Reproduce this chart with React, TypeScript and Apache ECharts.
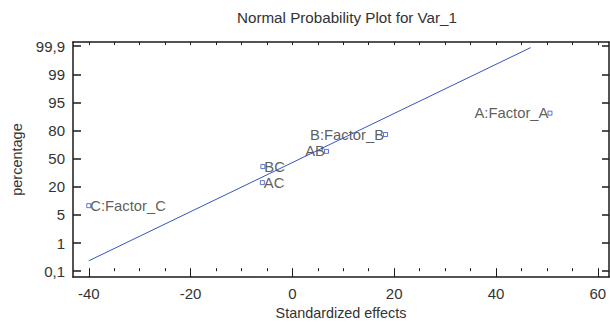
import React, { useEffect, useRef } from "react";
import * as echarts from "echarts";

const effectNames = ["A:Factor_A", "B:Factor_B", "C:Factor_C", "AB", "AC", "BC"];
const effectValues = [50.6, 18.3, -40.0, 6.7, -5.9, -5.8];
const effectScores = [5.62, 4.86, 2.33, 4.26, 3.15, 3.72];
const labelSides = ["left", "left", "right", "left", "right", "right"];

const yTickLabels = ["0,1", "1", "5", "20", "50", "80", "95", "99", "99,9"];
const xTickValues = [-40, -20, 0, 20, 40, 60];
const xMinorValues = [-40, -35, -30, -25, -20, -15, -10, -5, 0, 5, 10, 15, 20, 25, 30, 35, 40, 45, 50, 55, 60];

const refLineX = [-40, 46.8];
const refLineY = [0.37, 7.95];

const TEXT = "#333333";
const AXIS = "#1a1a1a";
const BLUE = "#3555c0";
const FONT = "Liberation Sans, Arial, sans-serif";

export default function App() {
  const ref = useRef<HTMLDivElement>(null);
  useEffect(() => {
    if (!ref.current) return;
    const chart = echarts.init(ref.current, null, { renderer: "svg" });
    const yIdx = yTickLabels.map((_, i) => i);
    const xMin = -43.1;
    const xMax = 62.2;
    const yMin = -0.21;
    const yMax = 8.15;
    const axisLine = { show: true, onZero: false, lineStyle: { color: AXIS, width: 1.5 } };
    chart.setOption({
      animation: false,
      backgroundColor: "#ffffff",
      textStyle: { fontFamily: FONT },
      title: {
        text: "Normal Probability Plot for Var_1",
        left: 342,
        top: 5,
        textAlign: "center",
        textStyle: { fontSize: 15.2, fontWeight: "normal", color: TEXT, fontFamily: FONT },
      },
      grid: { left: 73, right: 1, top: 42, bottom: 44, containLabel: false },
      xAxis: [
        {
          type: "value",
          position: "bottom",
          min: xMin,
          max: xMax,
          axisLine,
          splitLine: { show: false },
          axisTick: { show: true, inside: true, length: 7, customValues: xTickValues, lineStyle: { color: AXIS, width: 1 } },
          axisLabel: { customValues: xTickValues, color: TEXT, fontSize: 15, margin: 9, fontFamily: FONT },
          name: "Standardized effects",
          nameLocation: "middle",
          nameGap: 25,
          nameTextStyle: { color: TEXT, fontSize: 14.4, fontFamily: FONT },
        },
        {
          type: "value",
          position: "bottom",
          min: xMin,
          max: xMax,
          axisLine: { show: false },
          splitLine: { show: false },
          axisTick: { show: true, inside: true, length: 3, customValues: xMinorValues, lineStyle: { color: AXIS, width: 1 } },
          axisLabel: { show: false },
        },
        {
          type: "value",
          position: "top",
          min: xMin,
          max: xMax,
          axisLine,
          splitLine: { show: false },
          axisTick: { show: true, inside: true, length: 3, customValues: xMinorValues, lineStyle: { color: AXIS, width: 1 } },
          axisLabel: { show: false },
        },
      ],
      yAxis: [
        {
          type: "value",
          position: "left",
          min: yMin,
          max: yMax,
          axisLine,
          splitLine: { show: false },
          axisTick: { show: true, inside: true, length: 8, customValues: yIdx, lineStyle: { color: AXIS, width: 1.5 } },
          axisLabel: {
            customValues: yIdx,
            formatter: (v: number) => yTickLabels[Math.round(v)] ?? "",
            color: TEXT,
            fontSize: 15,
            margin: 8,
            fontFamily: FONT,
          },
          name: "percentage",
          nameLocation: "middle",
          nameGap: 48,
          nameRotate: 90,
          nameTextStyle: { color: TEXT, fontSize: 14.5, fontFamily: FONT },
        },
        {
          type: "value",
          position: "right",
          min: yMin,
          max: yMax,
          axisLine,
          splitLine: { show: false },
          axisTick: { show: true, inside: true, length: 7, customValues: yIdx, lineStyle: { color: AXIS, width: 1.5 } },
          axisLabel: { show: false },
        },
      ],
      series: [
        {
          type: "line",
          xAxisIndex: 0,
          yAxisIndex: 0,
          data: refLineX.map((x, i) => [x, refLineY[i]]),
          showSymbol: false,
          symbol: "none",
          lineStyle: { color: BLUE, width: 1 },
          silent: true,
        },
        {
          type: "scatter",
          xAxisIndex: 0,
          yAxisIndex: 0,
          symbol: "rect",
          symbolSize: 4,
          itemStyle: { color: "#ffffff", borderColor: BLUE, borderWidth: 1 },
          data: effectNames.map((n, i) => ({
            name: n,
            value: [effectValues[i], effectScores[i]],
            label: {
              show: true,
              position: labelSides[i],
              distance: -1,
              formatter: n,
              color: TEXT,
              fontSize: 14.8,
              fontFamily: FONT,
            },
          })),
        },
      ],
    });
    return () => chart.dispose();
  }, []);
  return (
    <div
      ref={ref}
      style={{ position: "absolute", left: 0, top: 0, width: 610, height: 325 }}
    />
  );
}
